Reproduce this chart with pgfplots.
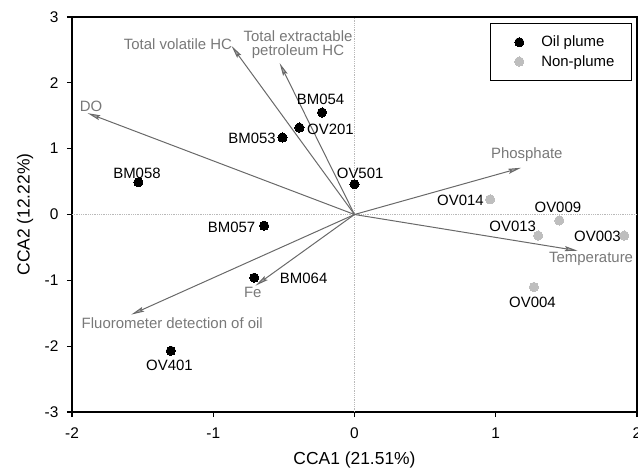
\documentclass[border=0pt]{standalone}
\usepackage{fontspec}
\setmainfont{Liberation Sans}
\usepackage{pgfplots}
\pgfplotsset{compat=1.18}
\usetikzlibrary{arrows.meta}
\definecolor{vecline}{RGB}{105,105,105}
\definecolor{veclab}{RGB}{120,120,120}
\definecolor{nonplume}{RGB}{190,190,190}

\pgfplotstableread{
x y
-0.23 1.55
-0.39 1.32
-0.51 1.17
-1.53 0.49
0.00 0.46
-0.64 -0.17
-0.71 -0.96
-1.30 -2.07
}\oilplume
\pgfplotstableread{
x y
0.96 0.23
1.45 -0.09
1.30 -0.32
1.91 -0.32
1.27 -1.10
}\nonplume

\begin{document}
\begin{tikzpicture}
\useasboundingbox (-72bp,-56bp) rectangle (566bp,412bp);
\begin{axis}[
  at={(0,0)}, anchor=south west,
  scale only axis, width=565bp, height=395bp,
  xmin=-2, xmax=2, ymin=-3, ymax=3,
  xtick={-2,-1,0,1,2}, ytick={-3,-2,-1,0,1,2,3},
  tick pos=left, tick align=outside, major tick length=5bp,
  axis line style={line width=1.3bp},
  every tick/.style={line width=1.1bp, black},
  /pgf/number format/assume math mode=true,
  ticklabel style={font=\fontsize{15.5}{17}\selectfont},
  xticklabel style={yshift=-7bp},
  yticklabel style={xshift=-5bp},
  xlabel={CCA1 (21.51\%)}, ylabel={CCA2 (12.22\%)},
  label style={font=\fontsize{17.5}{19}\selectfont},
  xlabel style={at={(axis description cs:0.5,-0.1215)}, anchor=center},
  ylabel style={at={(axis description cs:-0.0832,0.5)}, anchor=center},
  clip=false,
  legend style={at={(1,1)}, anchor=north east, xshift=-5bp, yshift=-6bp,
    draw=black, line width=1.2bp, font=\fontsize{15}{17}\selectfont,
    inner xsep=15bp, inner ysep=10.5bp, row sep=3bp},
  legend cell align=left,
  legend image code/.code={\path (0bp,0bp) (34bp,0bp); \draw[#1] plot coordinates {(14bp,0bp)};},
]
\addplot[densely dotted, line width=0.8bp, gray!55, forget plot] coordinates {(0,-3) (0,3)};
\addplot[densely dotted, line width=0.8bp, gray!55, forget plot] coordinates {(-2,0) (2,0)};

\pgfplotsset{vec/.style={vecline, line width=1bp, forget plot,
  -{Stealth[length=13bp,width=5bp,inset=2bp,fill=gray!70]}}}
\addplot[vec] coordinates {(0,0) (-1.89,1.54)};
\addplot[vec] coordinates {(0,0) (-0.87,2.56)};
\addplot[vec] coordinates {(0,0) (-0.53,2.30)};
\addplot[vec] coordinates {(0,0) (1.18,0.71)};
\addplot[vec] coordinates {(0,0) (1.58,-0.55)};
\addplot[vec] coordinates {(0,0) (-1.58,-1.52)};
\addplot[vec] coordinates {(0,0) (-0.70,-1.08)};

\addplot[only marks, mark=*, mark size=4.6bp, black, line width=0pt] table {\oilplume};
\addlegendentry{Oil plume}
\addplot[only marks, mark=*, mark size=4.6bp, nonplume, line width=0pt] table {\nonplume};
\addlegendentry{Non-plume}

\begin{scope}[every node/.style={font=\fontsize{15}{16}\selectfont, inner sep=0pt, anchor=center}]
\node at (axis cs:-0.24,1.75) {BM054};
\node at (axis cs:-0.17,1.30) {OV201};
\node at (axis cs:-0.725,1.16) {BM053};
\node at (axis cs:-1.54,0.63) {BM058};
\node at (axis cs:0.04,0.63) {OV501};
\node at (axis cs:-0.87,-0.19) {BM057};
\node at (axis cs:-0.36,-0.965) {BM064};
\node at (axis cs:-1.31,-2.29) {OV401};
\node at (axis cs:0.75,0.22) {OV014};
\node at (axis cs:1.44,0.11) {OV009};
\node at (axis cs:1.12,-0.175) {OV013};
\node at (axis cs:1.72,-0.33) {OV003};
\node at (axis cs:1.26,-1.33) {OV004};
\end{scope}
\begin{scope}[every node/.style={font=\fontsize{15}{16}\selectfont, inner sep=0pt, anchor=center, text=veclab}]
\node at (axis cs:-1.865,1.65) {DO};
\node at (axis cs:-1.25,2.58) {Total volatile HC};
\node[align=center] at (axis cs:-0.40,2.58) {Total extractable\\[-1bp]petroleum HC};
\node at (axis cs:1.22,0.905) {Phosphate};
\node at (axis cs:1.675,-0.675) {Temperature};
\node at (axis cs:-1.29,-1.65) {Fluorometer detection of oil};
\node at (axis cs:-0.72,-1.18) {Fe};
\end{scope}
\end{axis}
\end{tikzpicture}
\end{document}
